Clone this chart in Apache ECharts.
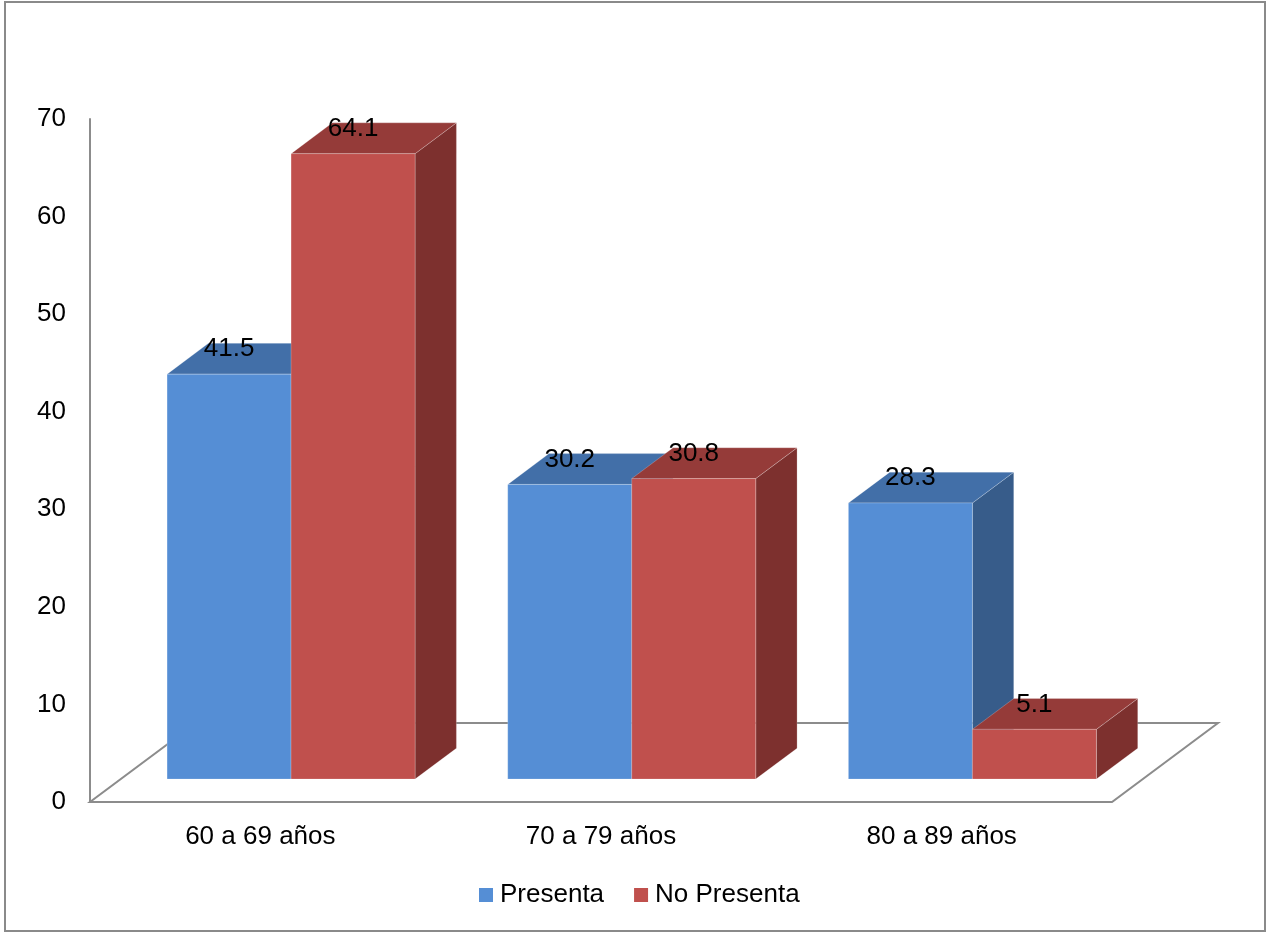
<!DOCTYPE html>
<html>
<head>
<meta charset="utf-8">
<script src="https://cdn.jsdelivr.net/npm/echarts@6/dist/echarts.min.js"></script>
<style>
  html, body { margin: 0; padding: 0; background: #fff; }
  #chart { width: 1268px; height: 932px; }
</style>
</head>
<body>
<div id="chart"></div>
<script>
// Age groups and percentages per group
const categories = ['60 a 69 años', '70 a 79 años', '80 a 89 años'];
const presenta = [41.5, 30.2, 28.3];
const noPresenta = [64.1, 30.8, 5.1];
const seriesNames = ['Presenta', 'No Presenta'];

// Oblique projection of the floor depth and where the bars sit inside it
const FLOOR_DX = 106, FLOOR_DY = -79;
const FRONT = 0.29, BACK = 0.68;
const BAR_FRAC = 0.364;
const FONT = '"Liberation Sans", Arial, sans-serif';

const palettes = [
  { front: '#558ED5', top: '#426FA8', side: '#375C8A' },
  { front: '#C0504D', top: '#953B39', side: '#7D302E' }
];

function barRenderer(idx) {
  const pal = palettes[idx];
  return function (params, api) {
    const ci = api.value(0), v = api.value(1);
    const band = api.size([1, 0])[0];
    const base = api.coord([ci, 0]);
    const top = api.coord([ci, v]);
    const w = band * BAR_FRAC;
    const ox = FLOOR_DX * FRONT, oy = FLOOR_DY * FRONT;
    const dx = FLOOR_DX * (BACK - FRONT), dy = FLOOR_DY * (BACK - FRONT);
    const x0 = base[0] + ox + (idx === 0 ? -w : 0);
    const x1 = x0 + w;
    const yb = base[1] + oy, yt = top[1] + oy;
    const edge = 'rgba(255,255,255,0.22)';
    return {
      type: 'group',
      children: [
        { type: 'polygon', shape: { points: [[x1, yb], [x1 + dx, yb + dy], [x1 + dx, yt + dy], [x1, yt]] },
          style: { fill: pal.side, stroke: edge, lineWidth: 1 } },
        { type: 'polygon', shape: { points: [[x0, yt], [x1, yt], [x1 + dx, yt + dy], [x0 + dx, yt + dy]] },
          style: { fill: pal.top, stroke: edge, lineWidth: 1 } },
        { type: 'polygon', shape: { points: [[x0, yb], [x1, yb], [x1, yt], [x0, yt]] },
          style: { fill: pal.front, stroke: edge, lineWidth: 1 } },
        { type: 'text', z2: 10,
          style: { text: String(v), x: (x0 + x1) / 2, y: yt - 25, align: 'center', verticalAlign: 'middle',
                   fontSize: 26, fontFamily: FONT, fill: '#000' } }
      ]
    };
  };
}

function floorRenderer(params, api) {
  const cs = params.coordSys;
  const yb = cs.y + cs.height;
  return {
    type: 'polygon',
    shape: { points: [[cs.x, yb], [cs.x + cs.width, yb], [cs.x + cs.width + FLOOR_DX, yb + FLOOR_DY], [cs.x + FLOOR_DX, yb + FLOOR_DY]] },
    style: { fill: null, stroke: '#8C8C8C', lineWidth: 2 }
  };
}

const chart = echarts.init(document.getElementById('chart'), null, { renderer: 'canvas' });
chart.setOption({
  animation: false,
  backgroundColor: '#fff',
  textStyle: { fontFamily: FONT },
  graphic: [{
    type: 'rect', shape: { x: 5, y: 2, width: 1260, height: 929 },
    style: { fill: null, stroke: '#8A8A8A', lineWidth: 2 }, z: 100
  }],
  grid: { left: 90, right: 156, top: 119, bottom: 130 },
  legend: {
    data: seriesNames, left: 474, top: 877, icon: 'rect', itemWidth: 14, itemHeight: 14, itemGap: 30,
    textStyle: { fontSize: 26, fontFamily: FONT, color: '#000', padding: [0, 0, 0, 2] }
  },
  xAxis: {
    type: 'category', data: categories,
    axisLine: { show: false }, axisTick: { show: false },
    axisLabel: { fontSize: 26, fontFamily: FONT, color: '#000', margin: 22 }
  },
  yAxis: {
    type: 'value', min: 0, max: 70, interval: 10,
    axisLine: { show: true, lineStyle: { color: '#8C8C8C', width: 2 } },
    axisTick: { show: false }, splitLine: { show: false },
    axisLabel: { fontSize: 26, fontFamily: FONT, color: '#000', margin: 24 }
  },
  series: [
    { type: 'custom', name: 'floor', z: 1, silent: true, renderItem: floorRenderer, data: [[0, 0]] },
    { type: 'custom', name: seriesNames[0], z: 2, itemStyle: { color: palettes[0].front },
      renderItem: barRenderer(0), encode: { x: 0, y: 1 },
      data: presenta.map((v, i) => [i, v]) },
    { type: 'custom', name: seriesNames[1], z: 2, itemStyle: { color: palettes[1].front },
      renderItem: barRenderer(1), encode: { x: 0, y: 1 },
      data: noPresenta.map((v, i) => [i, v]) }
  ]
});
</script>
</body>
</html>
